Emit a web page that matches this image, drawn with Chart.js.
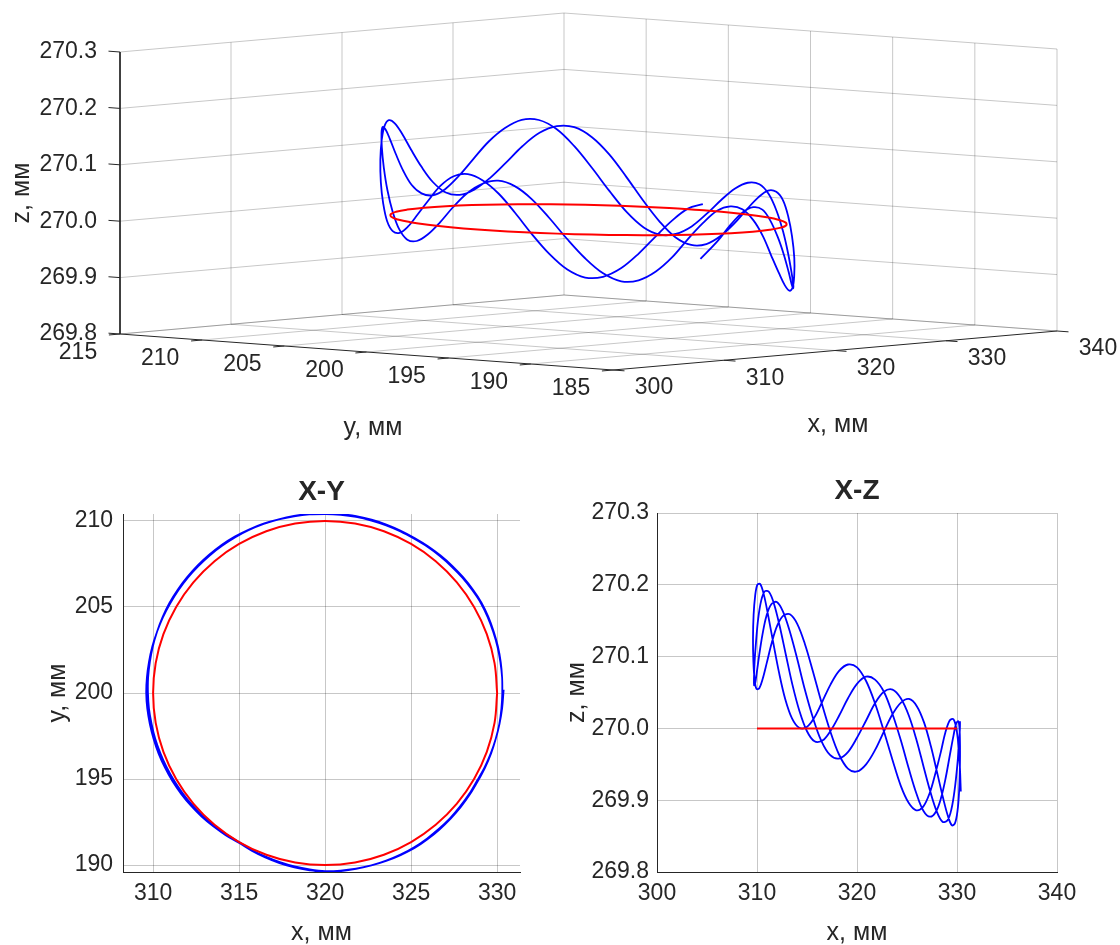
<!DOCTYPE html>
<html>
<head>
<meta charset="utf-8">
<script src="https://cdn.jsdelivr.net/npm/chart.js@4.4.1/dist/chart.umd.min.js"></script>
<style>
  html, body { margin: 0; padding: 0; background: #fff; }
  body { width: 1120px; height: 945px; position: relative; overflow: hidden; }
  canvas { position: absolute; }
  #c3d { left: 0; top: 0; }
  #cxy { left: 0; top: 460px; }
  #cxz { left: 560px; top: 460px; }
</style>
</head>
<body>
<canvas id="c3d" width="1120" height="460"></canvas>
<canvas id="cxy" width="560" height="485"></canvas>
<canvas id="cxz" width="560" height="485"></canvas>
<script>
// Ticks
const xTicks = [300, 310, 320, 330, 340];
const yTicks = [185, 190, 195, 200, 205, 210, 215];
const zTicks = [269.8, 269.9, 270.0, 270.1, 270.2, 270.3];
const xyXTicks = [310, 315, 320, 325, 330];
const xyYTicks = [190, 195, 200, 205, 210];

// Reference circle (red)
const refX = [330, 329.85, 329.40, 328.66, 327.66, 326.43, 325, 323.42, 321.74, 320, 318.26, 316.58, 315, 313.57, 312.34, 311.34, 310.60, 310.15, 310,
  310.15, 310.60, 311.34, 312.34, 313.57, 315, 316.58, 318.26, 320, 321.74, 323.42, 325, 326.43, 327.66, 328.66, 329.40, 329.85, 330];
const refY = [200, 201.74, 203.42, 205, 206.43, 207.66, 208.66, 209.40, 209.85, 210, 209.85, 209.40, 208.66, 207.66, 206.43, 205, 203.42, 201.74, 200,
  198.26, 196.58, 195, 193.57, 192.34, 191.34, 190.60, 190.15, 190, 190.15, 190.60, 191.34, 192.34, 193.57, 195, 196.58, 198.26, 200];
const refZ = [270, 270, 270, 270, 270, 270, 270, 270, 270, 270, 270, 270, 270, 270, 270, 270, 270, 270, 270,
  270, 270, 270, 270, 270, 270, 270, 270, 270, 270, 270, 270, 270, 270, 270, 270, 270, 270];

// Measured path (blue), two turns
const measX = [
  330.30, 330.29, 330.19, 330.02, 329.77, 329.45, 329.05, 328.55, 327.98, 327.35,
  326.67, 325.95, 325.18, 324.38, 323.55, 322.69, 321.80, 320.91, 320.00, 319.09,
  318.19, 317.30, 316.42, 315.57, 314.75, 313.98, 313.26, 312.59, 311.98, 311.43,
  310.95, 310.55, 310.23, 309.98, 309.81, 309.71, 309.70, 309.76, 309.91, 310.12,
  310.42, 310.78, 311.21, 311.71, 312.26, 312.88, 313.54, 314.25, 315.00, 315.75,
  316.54, 317.37, 318.22, 319.10, 320.00, 320.90, 321.80, 322.69, 323.55, 324.39,
  325.20, 325.95, 326.65, 327.30, 327.89, 328.42, 328.88, 329.30, 329.65, 329.92,
  330.13, 330.25, 330.30,
  330.29, 330.21, 330.05, 329.80, 329.49, 329.09, 328.59, 328.02, 327.39, 326.71,
  325.98, 325.20, 324.40, 323.56, 322.70, 321.81, 320.91, 320.00, 319.09, 318.19,
  317.30, 316.43, 315.58, 314.78, 314.01, 313.29, 312.63, 312.02, 311.47, 310.99,
  310.57, 310.23, 309.95, 309.76, 309.64, 309.60, 309.66, 309.81, 310.03, 310.32,
  310.69, 311.12, 311.63, 312.20, 312.82, 313.50, 314.22, 314.98, 315.73, 316.52,
  317.35, 318.21, 319.10, 320.00, 320.91, 321.80, 322.69, 323.55, 324.38, 325.18,
  325.92, 326.62, 327.27, 327.85, 328.38, 328.83, 329.27, 329.63, 329.92, 330.14,
  330.29, 330.38
];
const measY = [
  200.00, 200.90, 201.80, 202.69, 203.56, 204.41, 205.23, 205.98, 206.70, 207.35,
  207.95, 208.49, 208.96, 209.39, 209.74, 210.02, 210.23, 210.35, 210.40, 210.38,
  210.27, 210.09, 209.84, 209.50, 209.09, 208.60, 208.03, 207.41, 206.73, 206.00,
  205.23, 204.41, 203.56, 202.69, 201.80, 200.90, 200.00, 199.10, 198.22, 197.35,
  196.51, 195.70, 194.93, 194.19, 193.51, 192.88, 192.30, 191.79, 191.34, 190.88,
  190.49, 190.17, 189.92, 189.75, 189.65, 189.68, 189.79, 189.98, 190.24, 190.58,
  190.99, 191.50, 192.07, 192.70, 193.38, 194.11, 194.88, 195.67, 196.49, 197.34,
  198.21, 199.10, 200.00,
  200.90, 201.80, 202.69, 203.57, 204.42, 205.25, 206.01, 206.73, 207.39, 207.99,
  208.53, 209.01, 209.43, 209.79, 210.07, 210.27, 210.40, 210.45, 210.41, 210.29,
  210.09, 209.82, 209.47, 209.05, 208.55, 207.99, 207.37, 206.70, 205.97, 205.20,
  204.40, 203.56, 202.69, 201.81, 200.91, 200.00, 199.10, 198.20, 197.33, 196.48,
  195.66, 194.88, 194.14, 193.45, 192.82, 192.25, 191.74, 191.30, 190.84, 190.45,
  190.12, 189.87, 189.70, 189.60, 189.65, 189.78, 189.98, 190.26, 190.61, 191.04,
  191.54, 192.11, 192.73, 193.41, 194.14, 194.90, 195.68, 196.49, 197.34, 198.21,
  199.10, 200.20
];
const measZ = [
  270.010, 270.000, 269.977, 269.947, 269.915, 269.888, 269.872, 269.870, 269.884, 269.911,
  269.946, 269.984, 270.018, 270.042, 270.054, 270.051, 270.035, 270.011, 269.987, 269.967,
  269.958, 269.963, 269.983, 270.016, 270.056, 270.099, 270.136, 270.163, 270.176, 270.173,
  270.157, 270.131, 270.103, 270.078, 270.062, 270.060, 270.071, 270.093, 270.122, 270.153,
  270.178, 270.191, 270.190, 270.173, 270.143, 270.103, 270.061, 270.024, 269.996, 269.982,
  269.983, 269.997, 270.018, 270.042, 270.062, 270.072, 270.068, 270.051, 270.020, 269.983,
  269.943, 269.909, 269.885, 269.877, 269.884, 269.904, 269.932, 269.964, 269.990, 270.007,
  270.010, 270.000, 269.976,
  269.946, 269.912, 269.885, 269.868, 269.865, 269.878, 269.904, 269.938, 269.975, 270.008,
  270.031, 270.041, 270.036, 270.020, 269.996, 269.970, 269.950, 269.940, 269.944, 269.964,
  269.997, 270.037, 270.080, 270.118, 270.146, 270.159, 270.157, 270.143, 270.119, 270.092,
  270.069, 270.056, 270.055, 270.068, 270.093, 270.125, 270.158, 270.184, 270.200, 270.201,
  270.186, 270.157, 270.119, 270.078, 270.041, 270.014, 270.001, 270.002, 270.015, 270.037,
  270.061, 270.080, 270.089, 270.085, 270.066, 270.035, 269.996, 269.956, 269.920, 269.896,
  269.886, 269.891, 269.910, 269.938, 269.967, 269.994, 270.011, 270.013, 270.001, 269.977,
  269.946, 269.912
];

const FAM = '"Liberation Sans", Arial, Helvetica, sans-serif';
const TXT = '#262626';
const GRID = 'rgba(0,0,0,0.22)';
const AXIS = '#262626';
const RED = '#ff0000';
const BLUE = '#0000ff';
Chart.defaults.font.family = FAM;
Chart.defaults.color = TXT;

// ---------- 3D view ----------
const xMin = xTicks[0], xMax = xTicks[xTicks.length - 1];
const yMin = yTicks[0], yMax = yTicks[yTicks.length - 1];
const zMin = zTicks[0], zMax = zTicks[zTicks.length - 1];

// box corner (xMin,yMax,zMin) sits at (120,334); edges
const proj = (x, y, z) => ({
  x: 120 + (yMax - y) / (yMax - yMin) * 493 + (x - xMin) / (xMax - xMin) * 444,
  y: 334 + (yMax - y) / (yMax - yMin) * 36 - (x - xMin) / (xMax - xMin) * 39 - (z - zMin) / (zMax - zMin) * 282
});

const poly3d = (pts, color, width, tension) => ({
  data: pts.map(p => proj(p[0], p[1], p[2])),
  showLine: true, borderColor: color, borderWidth: width, pointRadius: 0, tension: tension || 0
});

const gridSegs = [];
xTicks.slice(1).forEach(x => {
  gridSegs.push([[x, yMax, zMin], [x, yMax, zMax]]);
  gridSegs.push([[x, yMax, zMin], [x, yMin, zMin]]);
});
yTicks.forEach(y => {
  if (y < yMax) gridSegs.push([[xMax, y, zMin], [xMax, y, zMax]]);
  if (y > yMin) gridSegs.push([[xMin, y, zMin], [xMax, y, zMin]]);
});
zTicks.forEach(z => gridSegs.push([[xMin, yMax, z], [xMax, yMax, z], [xMax, yMin, z]]));

const tickSegs = [];
zTicks.forEach(z => tickSegs.push([[xMin, yMax, z], [xMin, yMax + 0.7, z]]));
yTicks.forEach(y => tickSegs.push([[xMin, y, zMin], [xMin - 1, y, zMin]]));
xTicks.forEach(x => tickSegs.push([[x, yMin, zMin], [x, yMin - 0.7, zMin]]));

const datasets3d = [
  poly3d(refX.map((x, i) => [x, refY[i], refZ[i]]), RED, 2, 0.4),
  poly3d(measX.map((x, i) => [x, measY[i], measZ[i]]), BLUE, 1.8, 0.35),
  poly3d([[xMin, yMax, zMax], [xMin, yMax, zMin], [xMin, yMin, zMin], [xMax, yMin, zMin]], AXIS, 1),
  ...tickSegs.map(s => poly3d(s, AXIS, 1)),
  ...gridSegs.map(s => poly3d(s, GRID, 1))
];

const labels3d = {
  id: 'labels3d',
  afterDraw(chart) {
    const ctx = chart.ctx;
    ctx.save();
    ctx.fillStyle = TXT;
    ctx.font = '23px ' + FAM;
    ctx.textBaseline = 'middle';
    ctx.textAlign = 'right';
    zTicks.forEach(z => {
      const p = proj(xMin, yMax, z);
      ctx.fillText(z.toFixed(1), p.x - 23, p.y);
    });
    ctx.textAlign = 'center';
    yTicks.forEach(y => {
      const p = proj(xMin, y, zMin);
      ctx.fillText(String(y), p.x - 42, p.y + 19);
    });
    xTicks.forEach(x => {
      const p = proj(x, yMin, zMin);
      ctx.fillText(String(x), p.x + 41, p.y + 18);
    });
    ctx.font = '25px ' + FAM;
    ctx.fillText('y, мм', 373, 428);
    ctx.fillText('x, мм', 838, 425);
    ctx.translate(22, 193);
    ctx.rotate(-Math.PI / 2);
    ctx.fillText('z, мм', 0, 0);
    ctx.restore();
  }
};

new Chart(document.getElementById('c3d'), {
  type: 'scatter',
  data: { datasets: datasets3d },
  options: {
    responsive: false, animation: false, events: [],
    layout: { padding: 0 },
    plugins: { legend: { display: false }, tooltip: { enabled: false } },
    scales: {
      x: { type: 'linear', display: false, min: 0, max: 1120 },
      y: { type: 'linear', display: false, min: 0, max: 460, reverse: true }
    }
  },
  plugins: [labels3d]
});

// ---------- 2D views ----------
const frame2d = (title, xl, yl, yLabelX) => ({
  id: 'frame2d',
  afterDraw(chart) {
    const { ctx, chartArea: a } = chart;
    ctx.save();
    ctx.fillStyle = TXT;
    ctx.textAlign = 'center';
    ctx.textBaseline = 'middle';
    ctx.font = 'bold 28px ' + FAM;
    ctx.fillText(title, (a.left + a.right) / 2, a.top - 22);
    ctx.font = '25px ' + FAM;
    ctx.fillText(xl, (a.left + a.right) / 2, 473);
    ctx.translate(yLabelX, (a.top + a.bottom) / 2);
    ctx.rotate(-Math.PI / 2);
    ctx.fillText(yl, 0, 0);
    ctx.restore();
  }
});

const axis2d = (min, max, ticks, fmt, fit, pad) => ({
  type: 'linear', min, max,
  afterBuildTicks: s => { s.ticks = ticks.map(v => ({ value: v })); },
  afterFit: fit,
  grid: { color: GRID, drawTicks: false },
  border: { display: true, color: AXIS, width: 1 },
  ticks: { font: { size: 23, family: FAM }, color: TXT, padding: pad, autoSkip: false, maxRotation: 0, callback: fmt }
});

new Chart(document.getElementById('cxy'), {
  type: 'scatter',
  data: {
    datasets: [
      { data: refX.map((x, i) => ({ x, y: refY[i] })), showLine: true, borderColor: RED, borderWidth: 2, pointRadius: 0, tension: 0.4 },
      { data: measX.map((x, i) => ({ x, y: measY[i] })), showLine: true, borderColor: BLUE, borderWidth: 1.8, pointRadius: 0, tension: 0.35 }
    ]
  },
  options: {
    responsive: false, animation: false, events: [],
    layout: { padding: { left: 0, top: 54, right: 40, bottom: 0 } },
    plugins: { legend: { display: false }, tooltip: { enabled: false } },
    scales: {
      x: axis2d(308.25, 331.33, xyXTicks, v => String(v), s => { s.height = 73; }, 8),
      y: axis2d(189.6, 210.4, xyYTicks, v => String(v), s => { s.width = 123; }, 10)
    }
  },
  plugins: [frame2d('X-Y', 'x, мм', 'y, мм', 58)]
});

new Chart(document.getElementById('cxz'), {
  type: 'scatter',
  data: {
    datasets: [
      { data: refX.map((x, i) => ({ x, y: refZ[i] })), showLine: true, borderColor: RED, borderWidth: 2, pointRadius: 0, tension: 0 },
      { data: measX.map((x, i) => ({ x, y: measZ[i] })), showLine: true, borderColor: BLUE, borderWidth: 1.8, pointRadius: 0, tension: 0.35 }
    ]
  },
  options: {
    responsive: false, animation: false, events: [],
    layout: { padding: { left: 0, top: 53, right: 63, bottom: 0 } },
    plugins: { legend: { display: false }, tooltip: { enabled: false } },
    scales: {
      x: axis2d(300, 340, xTicks, v => String(v), s => { s.height = 73; }, 8),
      y: axis2d(269.8, 270.3, zTicks, v => Number(v).toFixed(1), s => { s.width = 97; }, 8)
    }
  },
  plugins: [frame2d('X-Z', 'x, мм', 'z, мм', 17)]
});
</script>
</body>
</html>
